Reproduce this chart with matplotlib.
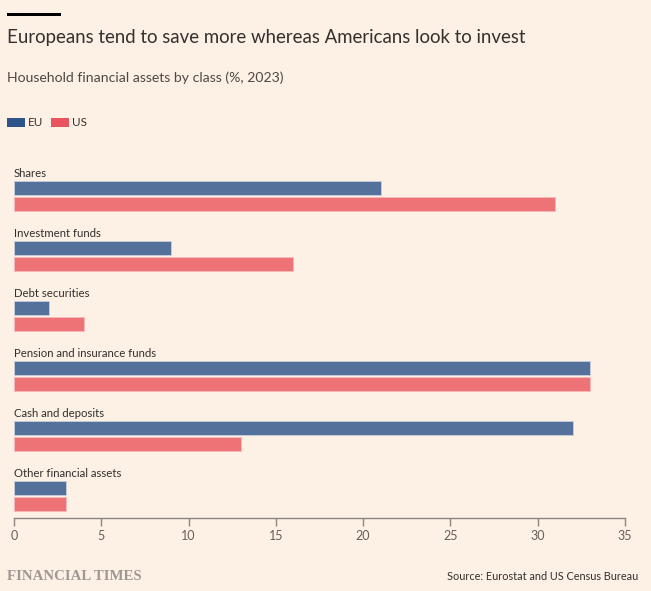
import matplotlib
matplotlib.use("Agg")
import matplotlib.pyplot as plt
from matplotlib.patches import Rectangle

categories = ["Shares", "Investment funds", "Debt securities",
              "Pension and insurance funds", "Cash and deposits", "Other financial assets"]
eu_values = [21, 9, 2, 33, 32, 3]
us_values = [31, 16, 4, 33, 13, 3]
x_ticks = [0, 5, 10, 15, 20, 25, 30, 35]

W, H = 651, 591
BG = "#fdf0e5"
EU_BAR = "#53719b"
US_BAR = "#ee7377"
EU_LEG = "#2e5489"
US_LEG = "#e9545f"
TEXT = "#33302e"
FONT = ["Lato", "DejaVu Sans"]
plt.rcParams["font.family"] = FONT

fig = plt.figure(figsize=(W / 100, H / 100), dpi=100, facecolor=BG)

def fx(px):
    return px / W

def fy(py):
    return 1 - py / H

ax_left, ax_right, ax_top, ax_bottom = 14, 625, 158, 518
ax = fig.add_axes([fx(ax_left), fy(ax_bottom), (ax_right - ax_left) / W, (ax_bottom - ax_top) / H])
ax.set_facecolor(BG)

bar_h = 14 / 60
off = 16 / 60
for i, (c, e, u) in enumerate(zip(categories, eu_values, us_values)):
    ax.barh(i, e, height=bar_h, color=EU_BAR, edgecolor="#c9cfdc", linewidth=0.6)
    ax.barh(i + off, u, height=bar_h, color=US_BAR, edgecolor="#f6b9b9", linewidth=0.6)
    ax.text(0, i - 0.24, c, fontsize=8.2, color=TEXT, va="center", ha="left")

ax.set_xlim(0, 35)
ax.set_ylim(len(categories) - 0.5, -0.5)
ax.set_xticks(x_ticks)
ax.set_xticklabels([str(t) for t in x_ticks], fontsize=9, color="#66605c")
ax.set_yticks([])
for s in ["top", "right", "left"]:
    ax.spines[s].set_visible(False)
ax.spines["bottom"].set_color("#8c8580")
ax.spines["bottom"].set_linewidth(1)
ax.tick_params(axis="x", length=6, color="#8c8580", width=1, pad=3)

# Top black bar
fig.add_artist(Rectangle((fx(7), fy(16)), 54 / W, 3 / H, transform=fig.transFigure,
                         color="black", lw=0))

fig.text(fx(7), fy(38), "Europeans tend to save more whereas Americans look to invest",
         fontsize=13.45, color=TEXT, va="center", ha="left")
fig.text(fx(7), fy(78), "Household financial assets by class (%, 2023)",
         fontsize=10.1, color="#4d4845", va="center", ha="left")

# Legend
fig.add_artist(Rectangle((fx(7), fy(127)), 18 / W, 9 / H, transform=fig.transFigure,
                         color=EU_LEG, lw=0))
fig.text(fx(28), fy(122.5), "EU", fontsize=8.4, color=TEXT, va="center", ha="left")
fig.add_artist(Rectangle((fx(51), fy(127)), 18 / W, 9 / H, transform=fig.transFigure,
                         color=US_LEG, lw=0))
fig.text(fx(72), fy(122.5), "US", fontsize=8.4, color=TEXT, va="center", ha="left")

fig.text(fx(7), fy(576), "FINANCIAL TIMES", fontsize=10.7, color="#9e9893", weight="bold",
         family=["Liberation Serif", "DejaVu Serif"], va="center", ha="left")
fig.text(fx(638), fy(577), "Source: Eurostat and US Census Bureau", fontsize=7.85,
         color=TEXT, va="center", ha="right")

fig.savefig("out.png", dpi=100, facecolor=BG)
